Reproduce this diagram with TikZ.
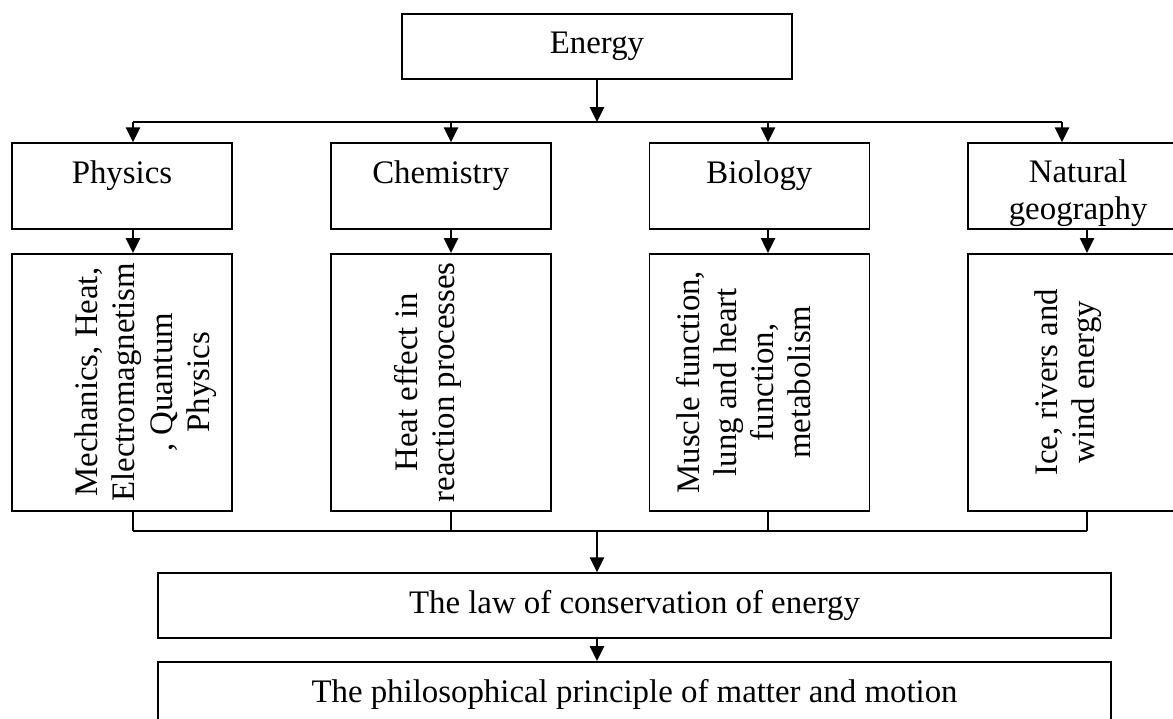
\documentclass[tikz,border=0pt]{standalone}
\usepackage{fontspec}
\setmainfont{Liberation Serif}
\usepackage{graphicx}
\usetikzlibrary{arrows.meta,positioning}
% rotated box text, optional width pad on the right
\newcommand{\uptext}[2][0pt]{\rotatebox{90}{\begin{tabular}{@{}c@{}}#2\end{tabular}}\hspace*{#1}}

\begin{document}
\begin{tikzpicture}[x=0.35pt,y=-0.35pt,>={Triangle[length=5.2pt,width=5pt]},line width=0.6pt,
	box/.style={draw,rectangle,inner sep=0pt,align=center,font=\fontsize{11.5}{13}\selectfont},
	head/.style={box,minimum width=77pt,minimum height=30.1pt,text depth=10pt},
	topic/.style={box,minimum width=77pt,minimum height=89.95pt},
	wide/.style={box,minimum width=333.55pt,minimum height=22.75pt}]
\useasboundingbox (0,0) rectangle (1173,718);

\node[box,minimum width=136.5pt,minimum height=22.75pt]   (energy) at (597,46.5)   {Energy};
\node[head]   (phys) at (122,186)   {Physics};
\node[head]   (chem)[right=33.95pt of phys]   {Chemistry};
\node[head]   (bio)[right=33.95pt of chem]   {Biology};
\node[head,text depth={}]   (geo)[right=33.95pt of bio]   {\rule{0pt}{13pt}Natural\\geography};
\node[topic]   (physl)[below=8.05pt of phys]   {\uptext[-16.8pt]{Mechanics, Heat,\\Electromagnetism\\, Quantum\\Physics}};
\node[topic]   (cheml)[below=8.05pt of chem]   {\uptext[8.4pt]{Heat effect in\\reaction processes}};
\node[topic]   (biol)[below=8.05pt of bio]   {\uptext[8.4pt]{Muscle function,\\lung and heart\\function,\\metabolism}};
\node[topic]   (geol)[below=8.05pt of geo]   {\uptext[7pt]{Ice, rivers and\\wind energy}};
\node[wide]   (law) at (634.5,605.5)   {The law of conservation of energy};
\node[wide]   (phil)[below=7.7pt of law]   {The philosophical principle of matter and motion};

% bus lines
\coordinate (hub) at (597,122);
\coordinate (d1) at (133,122);
\coordinate (d2) at (451,122);
\coordinate (d3) at (768,122);
\coordinate (d4) at (1062,122);
\coordinate (sink) at (597,531);
\coordinate (u1) at (133,531);
\coordinate (u2) at (451,531);
\coordinate (u3) at (768,531);
\coordinate (u4) at (1087,531);

\draw[->] (energy) -- (hub);
\draw (d1) -- (d4);
\draw (u1) -- (u4);
	\path[->] (d1)  edge	  (d1 |- phys.north)
						(d2)  edge	  (d2 |- chem.north)
						(d3)  edge	  (d3 |- bio.north)
						(d4)  edge	  (d4 |- geo.north)
						(u1 |- phys.south)  edge	  (u1 |- physl.north)
						(u2 |- chem.south)  edge	  (u2 |- cheml.north)
						(u3 |- bio.south)  edge	  (u3 |- biol.north)
						(u4 |- geo.south)  edge	  (u4 |- geol.north)
						(sink)  edge	  (sink |- law.north)
						(sink |- law.south)  edge	  (sink |- phil.north);
	\path (u1 |- physl.south)  edge	  (u1)
				(u2 |- cheml.south)  edge	  (u2)
				(u3 |- biol.south)  edge	  (u3)
				(u4 |- geol.south)  edge	  (u4);
\end{tikzpicture}
\end{document}
